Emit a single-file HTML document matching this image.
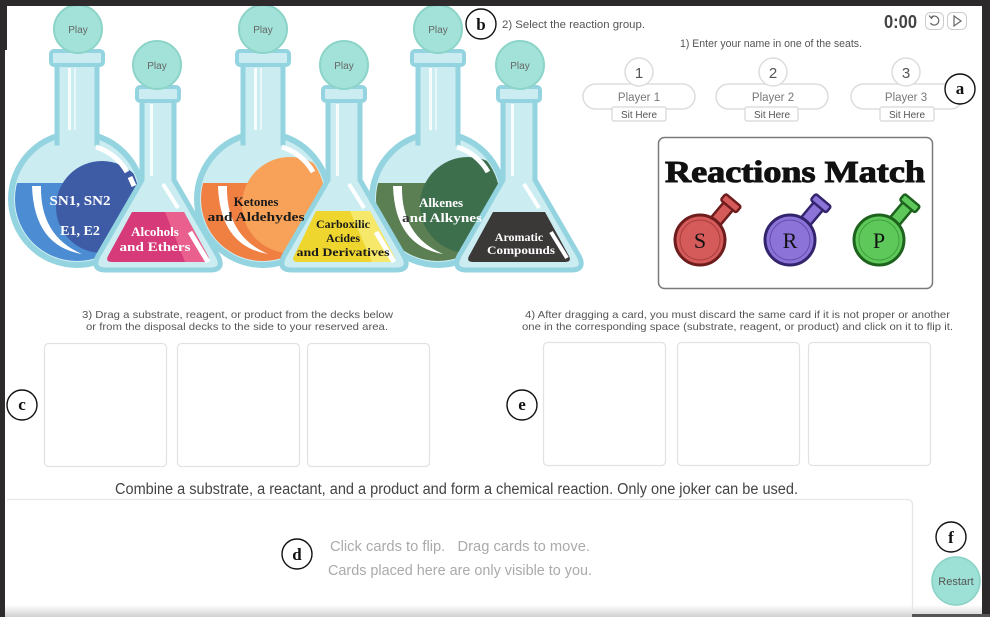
<!DOCTYPE html>
<html><head><meta charset="utf-8"><style>
html,body{margin:0;padding:0;background:#fff;}
svg{display:block;}
.s{font-family:"Liberation Sans",sans-serif;}
.f{font-family:"Liberation Serif",serif;font-weight:bold;}
</style></head><body>
<svg width="990" height="617" viewBox="0 0 990 617" xmlns="http://www.w3.org/2000/svg">
<defs>
<linearGradient id="bot" x1="0" y1="0" x2="0" y2="1"><stop offset="0" stop-color="#fff"/><stop offset="1" stop-color="#d0d0d0"/></linearGradient>
<clipPath id="c1"><circle cx="77" cy="199" r="62"/></clipPath>
<clipPath id="c3"><circle cx="263" cy="199" r="62"/></clipPath>
<clipPath id="c5"><circle cx="438" cy="199" r="62"/></clipPath>
</defs>
<rect width="990" height="617" fill="#fff"/>

<!-- ROUND FLASK 1 -->
<circle cx="77" cy="199" r="66" fill="#cbecf1" stroke="#93d4e0" stroke-width="6"/>
<g clip-path="url(#c1)">
<rect x="7" y="183" width="140" height="90" fill="#4b8cd3"/>
<circle cx="102" cy="207" r="46" fill="#3e5ca6"/>
<path d="M32 186 L41 186 Q40 236 82 254 Q34 246 32 186 Z" fill="#fff"/>
</g>
<rect x="57" y="58" width="40" height="85" fill="#cbecf1" stroke="#93d4e0" stroke-width="5"/>
<rect x="59.5" y="125" width="35" height="25" fill="#cbecf1"/>
<rect x="51" y="51" width="52" height="14" rx="3" fill="#cbecf1" stroke="#93d4e0" stroke-width="4"/>
<rect x="68" y="68" width="3" height="62" fill="#fff" opacity=".85"/>
<rect x="74" y="68" width="2" height="62" fill="#fff" opacity=".6"/>
<path d="M96 147 A54 54 0 0 1 127 172" stroke="#fff" stroke-width="5" fill="none"/>
<path d="M130 177 L134 186" stroke="#fff" stroke-width="5"/>

<!-- ROUND FLASK 3 -->
<circle cx="263" cy="199" r="66" fill="#cbecf1" stroke="#93d4e0" stroke-width="6"/>
<g clip-path="url(#c3)">
<rect x="193" y="183" width="140" height="90" fill="#f07f42"/>
<circle cx="290" cy="205" r="48" fill="#f7a258"/>
<path d="M218 186 L227 186 Q226 236 268 254 Q220 246 218 186 Z" fill="#fff"/>
</g>
<rect x="243" y="58" width="40" height="85" fill="#cbecf1" stroke="#93d4e0" stroke-width="5"/>
<rect x="245.5" y="125" width="35" height="25" fill="#cbecf1"/>
<rect x="237" y="51" width="52" height="14" rx="3" fill="#cbecf1" stroke="#93d4e0" stroke-width="4"/>
<rect x="254" y="68" width="3" height="62" fill="#fff" opacity=".85"/>
<rect x="260" y="68" width="2" height="62" fill="#fff" opacity=".6"/>
<path d="M282 147 A54 54 0 0 1 313 172" stroke="#fff" stroke-width="5" fill="none"/>

<!-- ROUND FLASK 5 -->
<circle cx="438" cy="199" r="66" fill="#cbecf1" stroke="#93d4e0" stroke-width="6"/>
<g clip-path="url(#c5)">
<rect x="368" y="183" width="140" height="90" fill="#5b7e52"/>
<circle cx="468" cy="205" r="48" fill="#3e6f4d"/>
<path d="M393 186 L402 186 Q401 236 443 254 Q395 246 393 186 Z" fill="#fff"/>
</g>
<rect x="418" y="58" width="40" height="85" fill="#cbecf1" stroke="#93d4e0" stroke-width="5"/>
<rect x="420.5" y="125" width="35" height="25" fill="#cbecf1"/>
<rect x="412" y="51" width="52" height="14" rx="3" fill="#cbecf1" stroke="#93d4e0" stroke-width="4"/>
<rect x="429" y="68" width="3" height="62" fill="#fff" opacity=".85"/>
<rect x="435" y="68" width="2" height="62" fill="#fff" opacity=".6"/>
<path d="M457 147 A54 54 0 0 1 488 172" stroke="#fff" stroke-width="5" fill="none"/>

<!-- CONE FLASK 2 -->
<path d="M142 100 L142 180 L98 256 Q91 270 106 270 L210 270 Q225 270 218 256 L174 180 L174 100 Z" fill="#cbecf1" stroke="#93d4e0" stroke-width="5" stroke-linejoin="round"/>
<rect x="137" y="87" width="42" height="14" rx="3" fill="#cbecf1" stroke="#93d4e0" stroke-width="4"/>
<rect x="150" y="104" width="3" height="72" fill="#fff" opacity=".85"/>
<path d="M132 212 L184 212 L208 256 Q211 262 204 262 L112 262 Q105 262 108 256 Z" fill="#d63a78"/>
<path d="M165 212 L184 212 L208 256 Q211 262 204 262 L185 262 Z" fill="#e9608f"/>
<path d="M163 184 L178 208" stroke="#fff" stroke-width="4"/>
<path d="M190 232 L208 262" stroke="#fff" stroke-width="5"/>

<!-- CONE FLASK 4 -->
<path d="M328 100 L328 180 L284 256 Q277 270 292 270 L396 270 Q411 270 404 256 L360 180 L360 100 Z" fill="#cbecf1" stroke="#93d4e0" stroke-width="5" stroke-linejoin="round"/>
<rect x="323" y="87" width="42" height="14" rx="3" fill="#cbecf1" stroke="#93d4e0" stroke-width="4"/>
<rect x="336" y="104" width="3" height="72" fill="#fff" opacity=".85"/>
<path d="M316 211 L370 211 L394 256 Q397 262 390 262 L298 262 Q291 262 294 256 Z" fill="#efd62f"/>
<path d="M350 211 L370 211 L394 256 Q397 262 390 262 L372 262 Z" fill="#f6e86a"/>
<path d="M349 184 L364 208" stroke="#fff" stroke-width="4"/>
<path d="M376 232 L394 262" stroke="#fff" stroke-width="5"/>

<!-- CONE FLASK 6 -->
<path d="M503 100 L503 180 L459 256 Q452 270 467 270 L571 270 Q586 270 579 256 L535 180 L535 100 Z" fill="#cbecf1" stroke="#93d4e0" stroke-width="5" stroke-linejoin="round"/>
<rect x="498" y="87" width="42" height="14" rx="3" fill="#cbecf1" stroke="#93d4e0" stroke-width="4"/>
<rect x="511" y="104" width="3" height="72" fill="#fff" opacity=".85"/>
<path d="M493 212 L545 212 L569 256 Q572 262 565 262 L473 262 Q466 262 469 256 Z" fill="#3b3838"/>
<path d="M524 184 L539 208" stroke="#fff" stroke-width="4"/>
<path d="M551 232 L567 258" stroke="#fff" stroke-width="4"/>

<!-- Play circles -->
<g fill="#a3e2d8" stroke="#8cd4c8" stroke-width="2">
<circle cx="78" cy="29" r="24"/><circle cx="263" cy="29" r="24"/><circle cx="438" cy="29" r="24"/>
<circle cx="157" cy="65" r="24"/><circle cx="344" cy="65" r="24"/><circle cx="520" cy="65" r="24"/>
</g>
<g class="s" font-size="10" fill="#666" text-anchor="middle">
<text x="78" y="33">Play</text><text x="263" y="33">Play</text><text x="438" y="33">Play</text>
<text x="157" y="69">Play</text><text x="344" y="69">Play</text><text x="520" y="69">Play</text>
</g>

<!-- flask labels -->
<g class="f" text-anchor="middle">
<text x="80" y="205" font-size="14" fill="#fff" textLength="61" lengthAdjust="spacingAndGlyphs">SN1, SN2</text>
<text x="80" y="235" font-size="14" fill="#fff">E1, E2</text>
<text x="155" y="236" font-size="13" fill="#fff">Alcohols</text>
<text x="155" y="251" font-size="13" fill="#fff" textLength="71" lengthAdjust="spacingAndGlyphs">and Ethers</text>
<text x="256" y="206" font-size="13" fill="#1a1a1a">Ketones</text>
<text x="256" y="221" font-size="13" fill="#1a1a1a" textLength="97" lengthAdjust="spacingAndGlyphs">and Aldehydes</text>
<text x="343" y="228" font-size="12" fill="#1a1a1a">Carboxilic</text>
<text x="343" y="242" font-size="12" fill="#1a1a1a">Acides</text>
<text x="343" y="256" font-size="12" fill="#1a1a1a" textLength="93" lengthAdjust="spacingAndGlyphs">and Derivatives</text>
<text x="441" y="207" font-size="13" fill="#fff">Alkenes</text>
<text x="442" y="222" font-size="13" fill="#fff" textLength="80" lengthAdjust="spacingAndGlyphs"><tspan fill="#333">a</tspan>nd Alkynes</text>
<text x="519" y="241" font-size="12" fill="#fff">Aromatic</text>
<text x="521" y="254" font-size="12" fill="#fff" textLength="68" lengthAdjust="spacingAndGlyphs">Compounds</text>
</g>

<!-- top right texts -->
<g class="s" fill="#555">
<text x="502" y="28" font-size="11" textLength="143" lengthAdjust="spacingAndGlyphs">2) Select the reaction group.</text>
<text x="680" y="47" font-size="11" textLength="182" lengthAdjust="spacingAndGlyphs">1) Enter your name in one of the seats.</text>
</g>
<text x="884" y="28" class="s" font-size="18" font-weight="bold" fill="#444" textLength="33" lengthAdjust="spacingAndGlyphs">0:00</text>
<rect x="925.5" y="12.5" width="18" height="17" rx="5" fill="#fff" stroke="#ccc"/>
<path d="M931 17.5 A4.5 4.5 0 1 1 930.5 23" fill="none" stroke="#666" stroke-width="1.2"/>
<path d="M929 15.5 L931.5 18.5 L933.5 15.5" fill="none" stroke="#666" stroke-width="1.1"/>
<rect x="947.5" y="12.5" width="19" height="17" rx="5" fill="#fff" stroke="#ccc"/>
<path d="M954 16 L961 21 L954 26 Z" fill="none" stroke="#666" stroke-width="1.2"/>

<!-- seats -->
<g fill="#fff" stroke="#ddd" stroke-width="1.5">
<rect x="583" y="84" width="112" height="25" rx="12.5"/>
<rect x="716" y="84" width="112" height="25" rx="12.5"/>
<rect x="851" y="84" width="112" height="25" rx="12.5"/>
<circle cx="639" cy="72" r="14"/><circle cx="773" cy="72" r="14"/><circle cx="906" cy="72" r="14"/>
<rect x="612" y="107" width="54" height="14" rx="2"/>
<rect x="745" y="107" width="53" height="14" rx="2"/>
<rect x="880" y="107" width="54" height="14" rx="2"/>
</g>
<g class="s" fill="#555" text-anchor="middle">
<text x="639" y="78" font-size="15">1</text><text x="773" y="78" font-size="15">2</text><text x="906" y="78" font-size="15">3</text>
<text x="639" y="101" font-size="11.5" fill="#777">Player 1</text><text x="773" y="101" font-size="11.5" fill="#777">Player 2</text><text x="906" y="101" font-size="11.5" fill="#777">Player 3</text>
<text x="639" y="118" font-size="10">Sit Here</text><text x="772" y="118" font-size="10">Sit Here</text><text x="907" y="118" font-size="10">Sit Here</text>
</g>

<!-- Reactions Match box -->
<rect x="658.5" y="137.5" width="274" height="151" rx="6" fill="#fff" stroke="#7a7a7a" stroke-width="1.5"/>
<text x="665" y="182" class="f" font-size="31" fill="#111" stroke="#111" stroke-width="1" textLength="260" lengthAdjust="spacingAndGlyphs">Reactions Match</text>
<g transform="translate(700,240)">
<g transform="rotate(40)"><rect x="-6" y="-46" width="12" height="26" fill="#d55a5a" stroke="#6e1c1c" stroke-width="2.5"/><rect x="-10" y="-52" width="20" height="8" rx="2" fill="#d55a5a" stroke="#6e1c1c" stroke-width="2.5"/></g>
<circle r="25" fill="#d55a5a" stroke="#6e1c1c" stroke-width="3"/><circle r="20" fill="none" stroke="#8e2a2a" stroke-width="1" opacity=".6"/>
<text y="8" text-anchor="middle" font-family="Liberation Serif,serif" font-size="22" fill="#111">S</text></g>
<g transform="translate(790,240)">
<g transform="rotate(40)"><rect x="-6" y="-46" width="12" height="26" fill="#8c73d8" stroke="#33246e" stroke-width="2.5"/><rect x="-10" y="-52" width="20" height="8" rx="2" fill="#8c73d8" stroke="#33246e" stroke-width="2.5"/></g>
<circle r="25" fill="#8c73d8" stroke="#33246e" stroke-width="3"/><circle r="20" fill="none" stroke="#4a3690" stroke-width="1" opacity=".6"/>
<text y="8" text-anchor="middle" font-family="Liberation Serif,serif" font-size="22" fill="#111">R</text></g>
<g transform="translate(879,240)">
<g transform="rotate(40)"><rect x="-6" y="-46" width="12" height="26" fill="#5ec95a" stroke="#1d631d" stroke-width="2.5"/><rect x="-10" y="-52" width="20" height="8" rx="2" fill="#5ec95a" stroke="#1d631d" stroke-width="2.5"/></g>
<circle r="25" fill="#5ec95a" stroke="#1d631d" stroke-width="3"/><circle r="20" fill="none" stroke="#2b852b" stroke-width="1" opacity=".6"/>
<text y="8" text-anchor="middle" font-family="Liberation Serif,serif" font-size="22" fill="#111">P</text></g>

<!-- section 3 / 4 texts -->
<g class="s" fill="#555" font-size="10.5">
<text x="82" y="318" textLength="311" lengthAdjust="spacingAndGlyphs">3) Drag a substrate, reagent, or product from the decks below</text>
<text x="86" y="330" textLength="302" lengthAdjust="spacingAndGlyphs">or from the disposal decks to the side to your reserved area.</text>
<text x="525" y="318" textLength="425" lengthAdjust="spacingAndGlyphs">4) After dragging a card, you must discard the same card if it is not proper or another</text>
<text x="522" y="330" textLength="431" lengthAdjust="spacingAndGlyphs">one in the corresponding space (substrate, reagent, or product) and click on it to flip it.</text>
</g>
<g fill="#fff" stroke="#e2e2e2" stroke-width="1.2">
<rect x="44.5" y="343.5" width="122" height="123" rx="4"/>
<rect x="177.5" y="343.5" width="122" height="123" rx="4"/>
<rect x="307.5" y="343.5" width="122" height="123" rx="4"/>
<rect x="543.5" y="342.5" width="122" height="123" rx="4"/>
<rect x="677.5" y="342.5" width="122" height="123" rx="4"/>
<rect x="808.5" y="342.5" width="122" height="123" rx="4"/>
</g>

<text x="115" y="494" class="s" font-size="15.5" fill="#444" textLength="683" lengthAdjust="spacingAndGlyphs">Combine a substrate, a reactant, and a product and form a chemical reaction. Only one joker can be used.</text>

<!-- d box -->
<rect x="0" y="605" width="990" height="12" fill="url(#bot)"/>
<path d="M7 499.5 L907 499.5 Q912.5 499.5 912.5 505 L912.5 617" fill="none" stroke="#e6e6e6" stroke-width="1.2"/>
<g class="s" fill="#aaa" font-size="15">
<text x="330" y="551" textLength="260" lengthAdjust="spacingAndGlyphs">Click cards to flip.&#160;&#160;&#160;Drag cards to move.</text>
<text x="328" y="575" textLength="264" lengthAdjust="spacingAndGlyphs">Cards placed here are only visible to you.</text>
</g>
<circle cx="956" cy="581" r="24" fill="#9de0d5" stroke="#88d1c5" stroke-width="1.5"/>
<text x="956" y="585" class="s" font-size="11" fill="#555" text-anchor="middle">Restart</text>

<!-- letter markers -->
<g fill="#fff" stroke="#111" stroke-width="1.4">
<circle cx="481" cy="24" r="15"/><circle cx="960" cy="89" r="15"/><circle cx="22" cy="405" r="15"/>
<circle cx="522" cy="405" r="15"/><circle cx="297" cy="554" r="15"/><circle cx="951" cy="537" r="15"/>
</g>
<g class="f" font-size="17" fill="#111" text-anchor="middle">
<text x="481" y="30">b</text><text x="960" y="94">a</text><text x="22" y="410">c</text>
<text x="522" y="410">e</text><text x="297" y="560">d</text><text x="951" y="543">f</text>
</g>

<!-- frame -->
<rect x="0" y="0" width="990" height="6" fill="#2c2a2b"/>
<rect x="0" y="0" width="7" height="50" fill="#2c2a2b"/>
<rect x="0" y="0" width="5" height="617" fill="#2c2a2b"/>
<rect x="982" y="0" width="8" height="614" fill="#2c2a2b"/>
<rect x="912" y="614" width="78" height="3" fill="#555"/>
</svg>
</body></html>
